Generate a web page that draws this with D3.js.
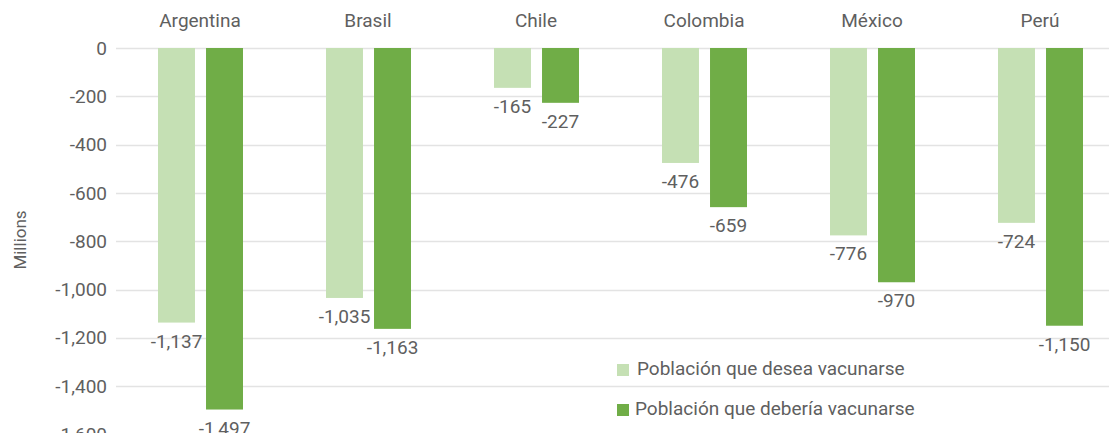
<!DOCTYPE html>
<html>
<head>
<meta charset="utf-8">
<script src="https://cdn.jsdelivr.net/npm/d3@7"></script>
<style>
  body { margin: 0; background: #fff; }
  text { font-family: "Roboto", sans-serif; fill: #5f5f5f; }
</style>
</head>
<body>
<div id="chart"></div>
<script>
var width = 1109,
    height = 433;

var countries = ["Argentina", "Brasil", "Chile", "Colombia", "México", "Perú"];
var series = ["Población que desea vacunarse", "Población que debería vacunarse"];
var desea = [-1137, -1035, -165, -476, -776, -724];
var deberia = [-1497, -1163, -227, -659, -970, -1150];
var yTicks = [0, -200, -400, -600, -800, -1000, -1200, -1400, -1600];
var colors = ["#c5e0b4", "#70ad47"];

var values = [desea, deberia];

var svg = d3.select("#chart").append("svg")
    .attr("width", width)
    .attr("height", height);

var y = d3.scaleLinear()
    .domain([0, -1600])
    .range([48, 434.4]);

var x0 = d3.scaleBand()
    .domain(countries)
    .range([116, 1124]);

var x1 = d3.scaleBand()
    .domain(series)
    .range([42, 127])
    .paddingInner(0.23);

// plain hyphen for negatives, like the original
var fmt = d3.formatLocale({
  decimal: ".", thousands: ",", grouping: [3], currency: ["$", ""], minus: "-"
}).format(",");

// gridlines
svg.append("g")
  .selectAll("line")
  .data(yTicks)
  .enter().append("line")
    .attr("x1", 116)
    .attr("x2", width)
    .attr("y1", function(d) { return Math.round(y(d)) + 0.5; })
    .attr("y2", function(d) { return Math.round(y(d)) + 0.5; })
    .style("stroke", "#e3e3e3")
    .style("stroke-width", 1.5);

// y tick labels
svg.append("g")
  .selectAll("text")
  .data(yTicks)
  .enter().append("text")
    .attr("x", 107)
    .attr("y", function(d) { return y(d); })
    .attr("dy", "0.35em")
    .attr("text-anchor", "end")
    .style("font-size", "19px")
    .text(function(d) { return fmt(d); });

svg.append("text")
    .attr("transform", "translate(26,240)rotate(-90)")
    .attr("text-anchor", "middle")
    .style("font-size", "17px")
    .text("Millions");

// category labels at top
svg.append("g")
  .selectAll("text")
  .data(countries)
  .enter().append("text")
    .attr("x", function(d) { return x0(d) + x0.bandwidth() / 2; })
    .attr("y", 27)
    .attr("text-anchor", "middle")
    .style("font-size", "19px")
    .text(function(d) { return d; });

// bars
var groups = svg.append("g")
  .selectAll("g")
  .data(countries)
  .enter().append("g")
    .attr("transform", function(d) { return "translate(" + x0(d) + ",0)"; });

series.forEach(function(s, si) {
  groups.append("rect")
      .attr("x", x1(s))
      .attr("width", x1.bandwidth())
      .attr("y", y(0))
      .attr("height", function(d, i) { return y(values[si][i]) - y(0); })
      .style("fill", colors[si]);

  groups.append("text")
      .attr("x", x1(s) + x1.bandwidth() / 2)
      .attr("y", function(d, i) { return y(values[si][i]) + 25; })
      .attr("text-anchor", "middle")
      .style("font-size", "19px")
      .text(function(d, i) { return fmt(values[si][i]); });
});

// legend
var legend = svg.append("g")
  .selectAll("g")
  .data(series)
  .enter().append("g")
    .attr("transform", function(d, i) { return "translate(617," + (364 + i * 40) + ")"; });

legend.append("rect")
    .attr("width", 12)
    .attr("height", 12)
    .style("fill", function(d, i) { return colors[i]; });

legend.append("text")
    .attr("x", function(d, i) { return i === 0 ? 20 : 18; })
    .attr("y", 11)
    .style("font-size", "19px")
    .text(function(d) { return d; });
</script>
</body>
</html>
